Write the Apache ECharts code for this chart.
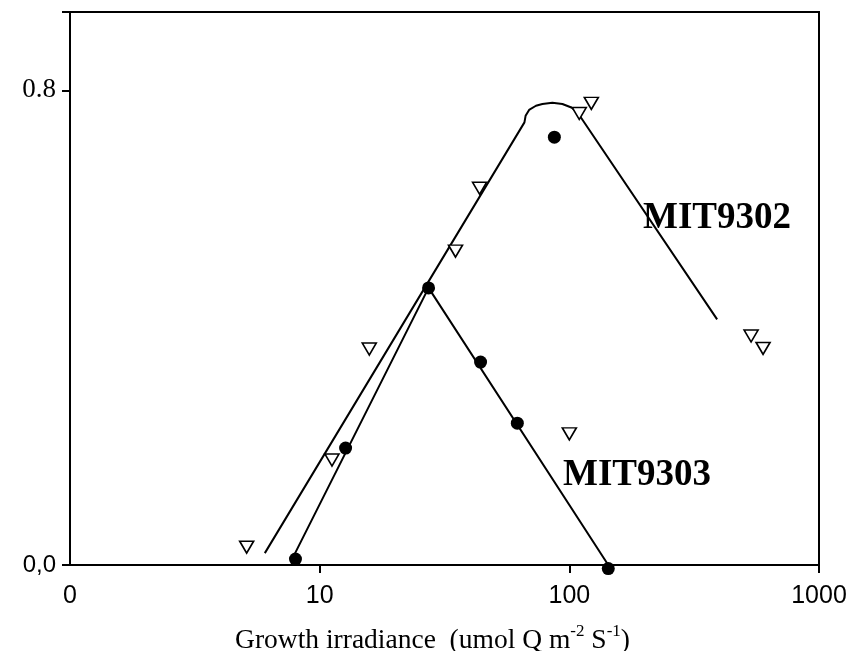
<!DOCTYPE html>
<html><head><meta charset="utf-8">
<script src="https://cdn.jsdelivr.net/npm/echarts@6/dist/echarts.min.js"></script>
<style>html,body{margin:0;padding:0;background:#fff}#c{width:864px;height:651px}</style>
</head><body><div id="c"></div>
<script>
// MIT9302 (open triangles)
var mit9302X = [5.1, 11.2, 15.8, 35.0, 43.7, 100, 109.6, 122.5, 534.6, 597];
var mit9302Y = [0.030, 0.177, 0.364, 0.529, 0.635, 0.221, 0.761, 0.778, 0.386, 0.365];
// MIT9303 (filled circles)
var mit9303X = [8.0, 12.7, 27.3, 44.1, 61.9, 87.1, 143.2];
var mit9303Y = [0.010, 0.197, 0.467, 0.342, 0.239, 0.721, -0.006];
// fitted curves
var fit9302X = [6.03, 66.1, 66.8, 69.0, 73.5, 78.0, 85.5, 93.8, 101.9, 107.7, 390.8];
var fit9302Y = [0.020, 0.746, 0.757, 0.767, 0.774, 0.777, 0.779, 0.777, 0.771, 0.763, 0.414];
var fit9303X = [7.8, 27.3, 143.2];
var fit9303Y = [0.012, 0.467, 0.0];
// axis ticks
var xTicks = [10, 100, 1000];
var xLabels = [1, 10, 100, 1000];
var yLabels = [0, 0.8];
var yTicks = [0, 0.8, 0.932];

function zip(a, b) { return a.map(function (v, i) { return [v, b[i]]; }); }

var chart = echarts.init(document.getElementById('c'));
chart.setOption({
  animation: false,
  backgroundColor: '#fff',
  grid: { left: 70, right: 45, top: 12, bottom: 86, show: true, borderColor: '#000', borderWidth: 2,
    backgroundColor: 'transparent', containLabel: false, outerBoundsMode: 'none' },
  xAxis: {
    type: 'log', logBase: 10, min: 1, max: 1000,
    axisLine: { lineStyle: { color: '#000', width: 2 } },
    axisTick: { show: true, inside: false, length: 8, lineStyle: { color: '#000', width: 2 }, customValues: xTicks },
    axisLabel: {
      customValues: xLabels, margin: 19,
      fontFamily: 'Liberation Sans', fontSize: 25, color: '#000',
      formatter: function (v) { return v === 1 ? '0' : String(v); }
    },
    minorTick: { show: false }, splitLine: { show: false },
    name: '{n|Growth irradiance  (umol Q m}{s|-2}{n| S}{s|-1}{n|)}',
    nameLocation: 'middle', nameGap: 58,
    nameTextStyle: {
      padding: [0, 24, 0, 0],
      rich: {
        n: { fontFamily: 'Liberation Serif', fontSize: 27.5, color: '#000', verticalAlign: 'bottom', lineHeight: 32 },
        s: { fontFamily: 'Liberation Serif', fontSize: 17, color: '#000', verticalAlign: 'top', lineHeight: 32 }
      }
    }
  },
  yAxis: {
    type: 'value', min: 0, max: 0.932,
    axisLine: { lineStyle: { color: '#000', width: 2 } },
    axisTick: { show: true, inside: false, length: 8, lineStyle: { color: '#000', width: 2 }, customValues: yTicks },
    axisLabel: {
      customValues: yLabels, margin: 14,
      formatter: function (v) { return v === 0 ? '{s|0,0}' : '{t|0.8}'; },
      rich: {
        s: { fontFamily: 'Liberation Sans', fontSize: 24, color: '#000' },
        t: { fontFamily: 'Liberation Serif', fontSize: 27, color: '#000' }
      }
    },
    splitLine: { show: false }
  },
  series: [
    { type: 'line', data: zip(fit9302X, fit9302Y), showSymbol: false, symbol: 'none', clip: false,
      lineStyle: { color: '#000', width: 2 }, z: 2 },
    { type: 'line', data: zip(fit9303X, fit9303Y), showSymbol: false, symbol: 'none', clip: false,
      lineStyle: { color: '#000', width: 2 }, z: 2 },
    { type: 'scatter', name: 'MIT9302', data: zip(mit9302X, mit9302Y), symbol: 'triangle', symbolRotate: 180,
      symbolSize: [14, 12], clip: false,
      itemStyle: { color: '#fff', borderColor: '#000', borderWidth: 1.6, opacity: 1 }, z: 3 },
    { type: 'scatter', name: 'MIT9303', data: zip(mit9303X, mit9303Y), symbol: 'circle',
      symbolSize: 13, clip: false,
      itemStyle: { color: '#000', opacity: 1 }, z: 3 }
  ],
  graphic: [
    { type: 'text', x: 717, y: 218, style: { text: 'MIT9302', fontFamily: 'Liberation Serif', fontWeight: 'bold', fontSize: 37, fill: '#000', align: 'center', verticalAlign: 'middle' }, z: 10 },
    { type: 'text', x: 637, y: 475, style: { text: 'MIT9303', fontFamily: 'Liberation Serif', fontWeight: 'bold', fontSize: 37, fill: '#000', align: 'center', verticalAlign: 'middle' }, z: 10 }
  ]
});
</script></body></html>
